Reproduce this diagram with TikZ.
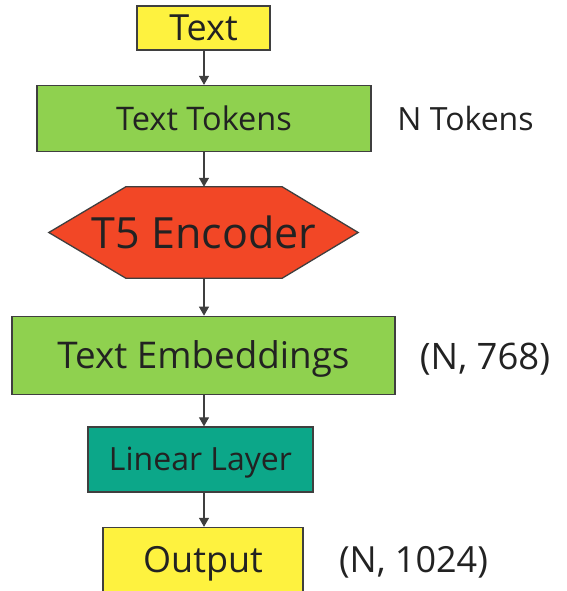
\documentclass[tikz,border=0pt]{standalone}
\usepackage{fontspec}
\setmainfont{Open Sans}
\usetikzlibrary{arrows.meta}
\definecolor{boxyellow}{HTML}{FEF23F}
\definecolor{boxgreen}{HTML}{8FD14F}
\definecolor{boxred}{HTML}{F24726}
\definecolor{boxteal}{HTML}{0CA789}
\definecolor{inkdark}{HTML}{222222}
\definecolor{edgegray}{HTML}{3F3F3F}
\tikzset{
  % font size in pt; the text box is cut to the cap height so the caps sit centred
  fs/.style={font=\fontsize{#1}{#1}\selectfont, text height={0.714*#1pt}, text depth=0pt},
  block/.style={draw=edgegray, line width=1.3pt, text=inkdark, inner sep=0pt, rectangle},
  side/.style={text=inkdark, inner sep=0pt},
  flow/.style={draw=edgegray, line width=1.2pt, -{Triangle[length=9pt,width=10pt]}},
}
\begin{document}
\begin{tikzpicture}[x=1pt,y=-1pt]
\useasboundingbox (0,0) rectangle (566,591);
\coordinate (axis) at (204,0);

% boxes
\node[block, fill=boxyellow, minimum width=133pt, minimum height=44pt, fs=36] (txt) at (203.5,28) {Text};
\node[block, fill=boxgreen, minimum width=334pt, minimum height=66pt, fs=32.5] (tok) at (204,118.5) {Text Tokens};

% encoder: hexagon drawn round an invisible frame
\coordinate (enc) at (203.5,232.5);
\node[inner sep=0pt, minimum width=309pt, minimum height=91pt] (encframe) at (enc) {};
\filldraw[fill=boxred, draw=edgegray, line width=1.3pt]
  (encframe.west) -- ([xshift=77pt]encframe.north west) -- ([xshift=-76pt]encframe.north east)
  -- (encframe.east) -- ([xshift=-76pt]encframe.south east) -- ([xshift=77pt]encframe.south west) -- cycle;
\node[inner sep=0pt, text=inkdark, fs=43] (enctext) at (204,233.3) {T5 Encoder};

\node[block, fill=boxgreen, minimum width=383pt, minimum height=78pt, fs=36.8] (emb) at (203.5,355.3) {Text Embeddings};
\node[block, fill=boxteal, minimum width=225pt, minimum height=65pt, fs=32] (lin) at (200.5,459.5) {Linear Layer};
\node[block, fill=boxyellow, minimum width=200pt, minimum height=64pt, fs=36] (out) at (203,559.5) {Output};

% shape labels
\node[side, fs=32] (ntok) at (465.5,119.3) {N Tokens};
\node[side, fs=36.5] (d768) at (485,356.5) {(N, 768)};
\node[side, fs=36] (d1024) at (413.5,559.8) {(N, 1024)};

% connectors
\draw[flow] (txt.south -| axis) -- (tok.north -| axis);
\draw[flow] (tok.south -| axis) -- (encframe.north -| axis);
\draw[flow] (encframe.south -| axis) -- (emb.north -| axis);
\draw[flow] (emb.south -| axis) -- (lin.north -| axis);
\draw[flow] (lin.south -| axis) -- (out.north -| axis);
\end{tikzpicture}
\end{document}
